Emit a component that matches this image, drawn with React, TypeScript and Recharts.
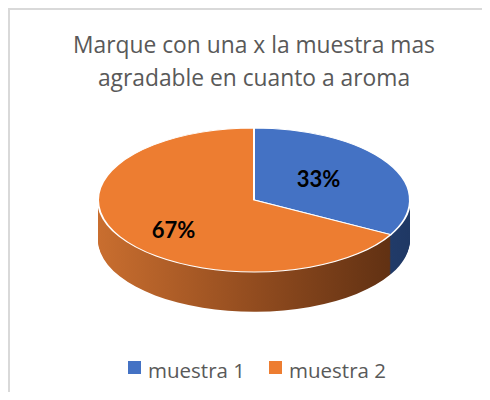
import React from "react";
import { PieChart, Pie, Cell } from "recharts";

const categories = ["muestra 1", "muestra 2"];
const values = [33, 67];
const titleLines = ["Marque con una x la muestra mas", "agradable en cuanto a aroma"];

const topColors = ["#4472C4", "#ED7D31"];
const sideFills = ["url(#sideBlue)", "url(#sideOrange)"];

// pie is drawn round, then squashed vertically to fake the 3D tilt
const K = 0.4615;
const CX = 246;
const CY = 416;
const R = 156;
const DEPTH = 86;
const STEP = 2;

const data = categories.map((name, i) => ({ name, value: values[i] }));

const layers: number[] = [];
for (let d = DEPTH; d > 0; d -= STEP) layers.push(d);

const RAD = Math.PI / 180;

function renderLabel(props: any) {
  const { cx, cy, midAngle, outerRadius, percent } = props;
  const r = outerRadius * 0.54;
  const x = cx - 8 + r * Math.cos(-midAngle * RAD);
  const y = cy + 4 / K + r * 1.3 * Math.sin(-midAngle * RAD);
  return (
    <g transform={`translate(${x},${y}) scale(1,${1 / K})`}>
      <text
        textAnchor="middle"
        dominantBaseline="central"
        fontFamily="Lato"
        fontWeight={700}
        fontSize={22}
        fill="#000"
      >
        {`${Math.round(percent * 100)}%`}
      </text>
    </g>
  );
}

const legendX = [120, 261];

export default function App() {
  return (
    <div
      style={{
        position: "relative",
        width: 474,
        height: 384,
        overflow: "hidden",
        background: "#fff",
      }}
    >
      <div
        style={{
          position: "absolute",
          left: 0,
          top: 0,
          right: 0,
          bottom: 0,
          borderLeft: "2px solid #d9d9d9",
          borderTop: "2px solid #d9d9d9",
        }}
      />
      <svg
        width={474}
        height={384}
        style={{ position: "absolute", left: 0, top: 0 }}
        fontFamily="'Open Sans'"
      >
        {titleLines.map((t, i) => (
          <text key={t} x={246} y={45 + i * 33} textAnchor="middle" fontSize={22.8} fill="#595959">
            {t}
          </text>
        ))}
        {categories.map((c, i) => (
          <g key={c}>
            <rect x={legendX[i]} y={353} width={13} height={13} fill={topColors[i]} />
            <text x={legendX[i] + 20} y={369.5} fontSize={20.5} fill="#595959">
              {c}
            </text>
          </g>
        ))}
      </svg>
      <div
        style={{
          position: "absolute",
          left: 0,
          top: 0,
          transform: `scaleY(${K})`,
          transformOrigin: "0 0",
        }}
      >
        <PieChart width={474} height={680} margin={{ top: 0, right: 0, bottom: 0, left: 0 }}>
          <defs>
            <linearGradient id="sideOrange" gradientUnits="userSpaceOnUse" x1={CX - R} y1={0} x2={CX + R} y2={0}>
              <stop offset="0%" stopColor="#c96e2f" />
              <stop offset="50%" stopColor="#924c1f" />
              <stop offset="100%" stopColor="#5a2d11" />
            </linearGradient>
            <linearGradient id="sideBlue" gradientUnits="userSpaceOnUse" x1={CX - R} y1={0} x2={CX + R} y2={0}>
              <stop offset="0%" stopColor="#3a64ad" />
              <stop offset="100%" stopColor="#1f3864" />
            </linearGradient>
          </defs>
          {layers.map((d) => (
            <Pie
              key={`side-${d}`}
              data={data}
              dataKey="value"
              nameKey="name"
              cx={CX}
              cy={CY + d}
              outerRadius={R}
              startAngle={90}
              endAngle={-270}
              stroke="none"
              label={false}
              labelLine={false}
              isAnimationActive={false}
            >
              {data.map((e, i) => (
                <Cell key={e.name} fill={sideFills[i]} />
              ))}
            </Pie>
          ))}
          <Pie
            data={data}
            dataKey="value"
            nameKey="name"
            cx={CX}
            cy={CY}
            outerRadius={R}
            startAngle={90}
            endAngle={-270}
            stroke="#fff"
            strokeWidth={2}
            label={renderLabel}
            labelLine={false}
            isAnimationActive={false}
          >
            {data.map((e, i) => (
              <Cell key={e.name} fill={topColors[i]} />
            ))}
          </Pie>
        </PieChart>
      </div>
    </div>
  );
}
